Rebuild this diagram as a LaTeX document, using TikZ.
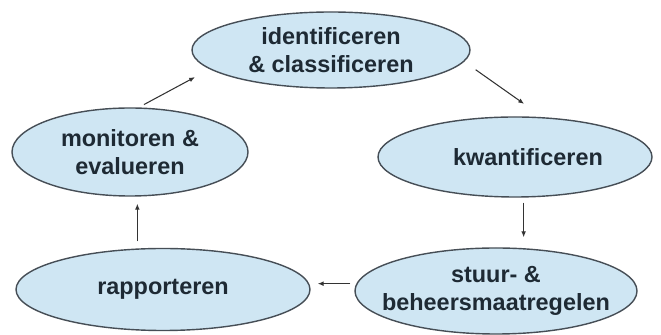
\documentclass[tikz,border=0pt]{standalone}
\usepackage{fontspec}
\setmainfont{Liberation Sans}
\usetikzlibrary{shapes.geometric,arrows.meta}
\definecolor{blobfill}{RGB}{207,230,243}
\definecolor{blobline}{RGB}{70,78,86}
\definecolor{inkcol}{RGB}{30,42,52}

\begin{document}
\begin{tikzpicture}[
	blob/.style={ellipse, draw=blobline, line width=1.2pt, fill=blobfill, inner sep=0pt},
	txt/.style={font=\bfseries\fontsize{20}{24}\selectfont, text=inkcol, align=center},
	arr/.style={draw=black!80, line width=0.9pt, -{Latex[length=5pt,width=4pt]}}
	]
			%%%%% START %%%%%
			
			\useasboundingbox (0,0) rectangle (19.83,10.05);
			
			\node[blob, minimum width=8.34cm, minimum height=2.28cm, label={[txt]center:identificeren\\\& classificeren}] (idc) at (9.93,8.55) {};
			\node[blob, minimum width=7.08cm, minimum height=2.64cm, label={[txt]center:monitoren \&\\evalueren}] (mon) at (3.90,5.49) {};
			\node[blob, minimum width=8.22cm, minimum height=2.40cm, label={[txt,xshift=0.39cm]center:kwantificeren}] (kwa) at (15.45,5.34) {};
			\node[blob, minimum width=8.82cm, minimum height=2.46cm, label={[txt]center:rapporteren}] (rap) at (4.89,1.365) {};
			\node[blob, minimum width=8.46cm, minimum height=2.58cm, label={[txt]center:stuur- \&\\beheersmaatregelen}] (stu) at (14.88,1.32) {};
			
			\draw[arr, shorten <=0.18cm, shorten >=0.5cm] (mon.79) -- (idc.189);
			\draw[arr, shorten <=0.42cm, shorten >=0.69cm] (idc.-5) -- (kwa.55);
			\draw[arr, shorten <=0.15cm, shorten >=0.3cm] (kwa.-78) -- (kwa.-78 |- stu.north);
			\draw[arr, shorten <=0.18cm, shorten >=0.21cm] (stu.177) -- (stu.177 -| rap.east);
			\draw[arr, shorten <=0.21cm, shorten >=0.21cm] (rap.122) -- (rap.122 |- mon.south);
			
			%%%%% END %%%%%
\end{tikzpicture}
\end{document}
